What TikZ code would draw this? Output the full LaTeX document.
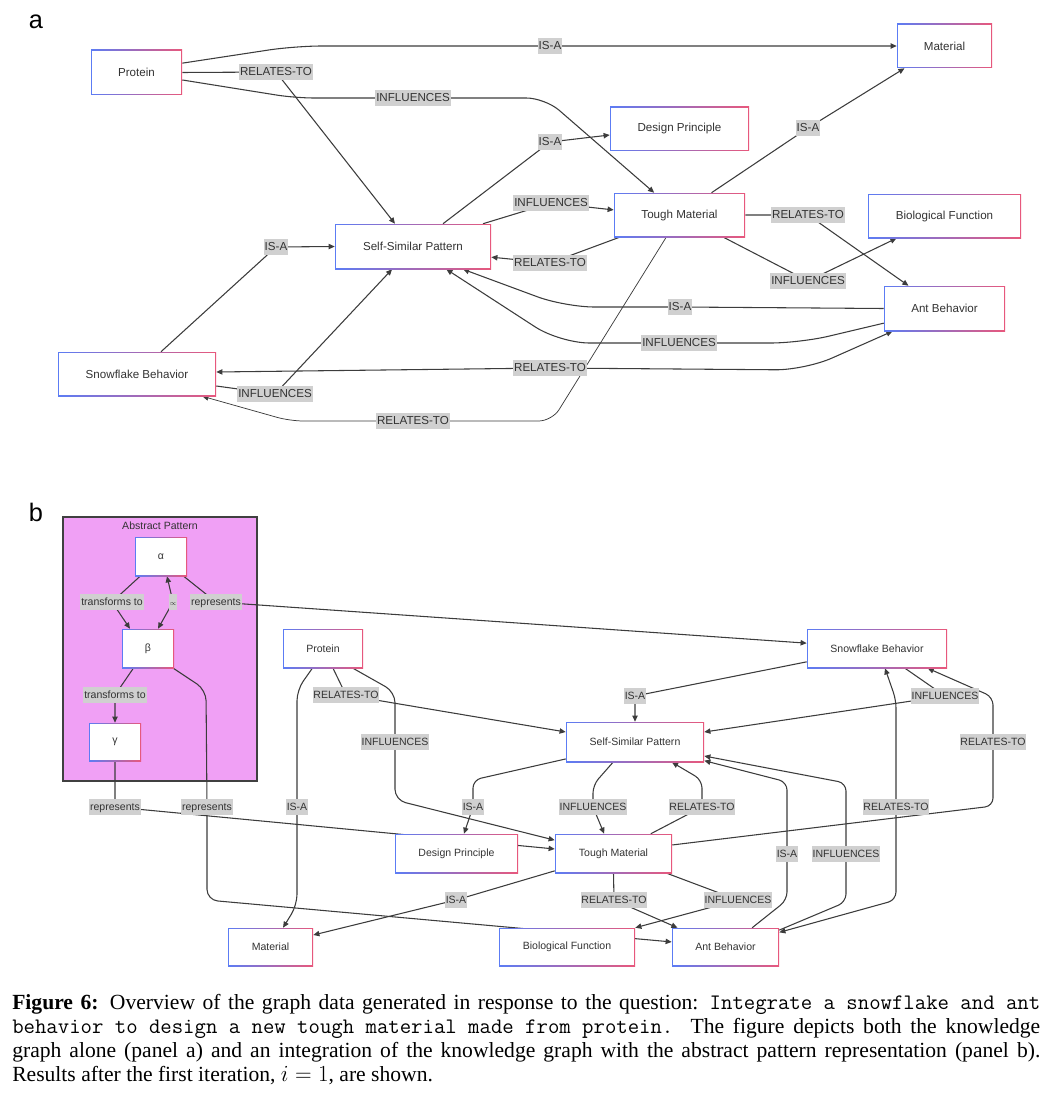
\documentclass[tikz,border=0pt]{standalone}
\usepackage{fontspec}
\setmainfont{Liberation Serif}
\setsansfont{Liberation Sans}
\usepackage{tikz}
\usetikzlibrary{arrows.meta}
\definecolor{kgblue}{HTML}{5C7CF4}
\definecolor{kgpink}{HTML}{E8587C}
\definecolor{kgtext}{HTML}{333333}
\definecolor{kgline}{HTML}{3C3C3C}
\definecolor{kglabel}{HTML}{D0D0D0}
\definecolor{absfill}{HTML}{F0A0F5}
\pgfdeclarelayer{bg}
\pgfdeclarelayer{lines}
\pgfsetlayers{bg,lines,main}
\newcommand{\fonta}{\sffamily\fontsize{8.7}{10}\selectfont}
\newcommand{\fontb}{\sffamily\fontsize{7.9}{9}\selectfont}
\newcommand{\captt}[1]{{\fontsize{16.6}{18}\selectfont\ttfamily #1}}

\begin{document}
\begin{tikzpicture}[x=0.75pt, y=-0.75pt,
	kg_node/.style 2 args={rectangle, inner sep=0pt, left color=kgblue, right color=kgpink, text=kgtext, minimum width=#1*0.75pt, minimum height=#2*0.75pt, path picture={\fill[white] ([xshift=1.1pt,yshift=-1.1pt]path picture bounding box.north west) rectangle ([xshift=-1.1pt,yshift=1.1pt]path picture bounding box.south east);}},
	kg_label/.style={fill=kglabel, text=kgtext, inner xsep=0.6pt, inner ysep=1.5pt, text height=0.72em, text depth=0.22em},
	kg_edge/.style={draw=kgline, line width=0.8pt, rounded corners=6pt},
	>={Triangle[length=4.6pt,width=4pt]}]
\useasboundingbox (0,0) rectangle (1054,1102);

% panel a
\node[font=\sffamily\fontsize{19}{19}\selectfont] (tag_a) at (36,22) {a};
\begin{scope}[font=\fonta]
	\node[kg_node={91}{45}](pa) at (136.5,72.5){Protein};
	\node[kg_node={95}{44}](ma) at (944.5,46){Material};
	\node[kg_node={139}{44}](da) at (679.5,129){Design Principle};
	\node[kg_node={131}{44}](ta) at (679.5,215){Tough Material};
	\node[kg_node={153}{44}](fa) at (944.5,216){Biological Function};
	\node[kg_node={121}{45}](aa) at (944.5,308.5){Ant Behavior};
	\node[kg_node={156}{45}](sa) at (413,246.5){Self-Similar Pattern};
	\node[kg_node={158}{44}](na) at (137,374){Snowflake Behavior};

	\node[kg_label](isa_1) at (550,46){IS-A};
	\node[kg_label](rel_1) at (276,72){RELATES-TO};
	\node[kg_label](inf_1) at (413,98){INFLUENCES};
	\node[kg_label](isa_2) at (550,142){IS-A};
	\node[kg_label](inf_2) at (551,203){INFLUENCES};
	\node[kg_label](rel_2) at (550,263){RELATES-TO};
	\node[kg_label](isa_3) at (808,128){IS-A};
	\node[kg_label](rel_3) at (808,215){RELATES-TO};
	\node[kg_label](inf_3) at (808,281){INFLUENCES};
	\node[kg_label](isa_4) at (680,307){IS-A};
	\node[kg_label](inf_4) at (679,343){INFLUENCES};
	\node[kg_label](rel_4) at (550,368){RELATES-TO};
	\node[kg_label](isa_5) at (276,247){IS-A};
	\node[kg_label](inf_5) at (275,394){INFLUENCES};
	\node[kg_label](rel_5) at (413,421){RELATES-TO};
\end{scope}

\begin{pgfonlayer}{lines}
	\draw[kg_edge,->,rounded corners=20pt] ([yshift=7pt]pa.east) -- (295,46) -- (isa_1.center) -- (ma.west);
	\draw[kg_edge,->] (pa.east) -- (rel_1.center) -- ([xshift=-13.5pt]sa.north);
	\draw[kg_edge,->,rounded corners=14pt] ([yshift=-5.6pt]pa.east) -- (295,98) -- (inf_1.center) -- (545,98) -- ([xshift=-19pt]ta.north);
	\draw[kg_edge,->] ([xshift=22.5pt]sa.north) -- (isa_2.center) -- ([yshift=-4.5pt]da.west);
	\draw[kg_edge,->] ([xshift=52.5pt]sa.north) -- (inf_2.center) -- ([yshift=3.8pt]ta.west);
	\draw[kg_edge,->] ([xshift=-45pt]ta.south) -- (rel_2.center) -- ([yshift=-8pt]sa.east);
	\draw[kg_edge,->] ([xshift=24pt]ta.north) -- (isa_3.center) -- ([xshift=-30pt]ma.south);
	\draw[kg_edge,->] (ta.east) -- (rel_3.center) -- ([xshift=-27pt]aa.north);
	\draw[kg_edge,->] ([xshift=33pt]ta.south) -- (inf_3.center) -- ([xshift=-36pt]fa.south);
	\draw[kg_edge,->,rounded corners=22pt] (aa.west) -- (isa_4.center) -- (565,307) -- ([xshift=37.5pt]sa.south);
	\draw[kg_edge,->,rounded corners=22pt] ([yshift=-11pt]aa.west) -- (800,343) -- (inf_4.center) -- (560,343) -- ([xshift=25pt]sa.south);
	\draw[kg_edge,<->,rounded corners=22pt] ([yshift=1.5pt]na.east) -- (rel_4.center) -- (805,370) -- ([xshift=-39pt]aa.south);
	\draw[kg_edge,->] ([xshift=18pt]na.north) -- (isa_5.center) -- (sa.west);
	\draw[kg_edge,->] ([yshift=-9pt]na.east) -- (inf_5.center) -- ([xshift=-15.7pt]sa.south);
	\draw[kg_edge,->,line width=0.55pt,rounded corners=10pt] ([xshift=-10pt]ta.south) -- (552,421) -- (rel_5.center) -- (290,421) -- ([xshift=49pt]na.south);
\end{pgfonlayer}

% panel b
\node[font=\sffamily\fontsize{19}{19}\selectfont] (tag_b) at (36,512) {b};
\begin{pgfonlayer}{bg}
	\node[draw=black!75, fill=absfill, line width=1.1pt, minimum width=194*0.75pt, minimum height=264*0.75pt] (abs) at (160,649) {};
\end{pgfonlayer}
\begin{scope}[font=\fontb]
	\node[text=kgtext](abs_title) at (160,526){Abstract Pattern};
	\node[kg_node={52}{39}](al) at (161,556.5){α};
	\node[kg_node={52}{39}](be) at (148,648.5){β};
	\node[kg_node={52}{38}](ga) at (115,742){γ};
	\node[kg_node={80}{39}](pb) at (323,648.5){Protein};
	\node[kg_node={140}{39}](nb) at (877,648.5){Snowflake Behavior};
	\node[kg_node={138}{40}](sb) at (635,742){Self-Similar Pattern};
	\node[kg_node={123}{39}](db) at (456.5,853.5){Design Principle};
	\node[kg_node={117}{39}](tb) at (613.5,853.5){Tough Material};
	\node[kg_node={85}{38}](mb) at (270.5,947){Material};
	\node[kg_node={136}{38}](fb) at (567,947){Biological Function};
	\node[kg_node={107}{38}](ab) at (725.5,947){Ant Behavior};

	\node[kg_label](tr_1) at (112,602){transforms to};
	\node[kg_label,font=\tiny](prop) at (173,602){$\propto$};
	\node[kg_label](rep_1) at (216,602){represents};
	\node[kg_label](tr_2) at (115,695){transforms to};
	\node[kg_label](rep_3) at (115,807){represents};
	\node[kg_label](rep_2) at (207,807){represents};
	\node[kg_label](isa_6) at (297,807){IS-A};
	\node[kg_label](rel_6) at (346,695){RELATES-TO};
	\node[kg_label](inf_6) at (395,742){INFLUENCES};
	\node[kg_label](isa_7) at (635,696){IS-A};
	\node[kg_label](inf_7) at (945,696){INFLUENCES};
	\node[kg_label](rel_7) at (993,742){RELATES-TO};
	\node[kg_label](rel_8) at (896,807){RELATES-TO};
	\node[kg_label](isa_8) at (473,807){IS-A};
	\node[kg_label](inf_8) at (593,807){INFLUENCES};
	\node[kg_label](rel_9) at (702,807){RELATES-TO};
	\node[kg_label](isa_9) at (787,854){IS-A};
	\node[kg_label](inf_9) at (846,854){INFLUENCES};
	\node[kg_label](isa_10) at (456,900){IS-A};
	\node[kg_label](rel_10) at (614,900){RELATES-TO};
	\node[kg_label](inf_10) at (738,900){INFLUENCES};
\end{scope}

\begin{pgfonlayer}{lines}
	\draw[kg_edge,->] ([xshift=-15.7pt]al.south) -- (tr_1.center) -- ([xshift=-13.5pt]be.north);
	\draw[kg_edge,<->] ([xshift=4.5pt]al.south) -- (prop.center) -- ([xshift=7.5pt]be.north);
	\draw[kg_edge,->] ([xshift=17pt]al.south) -- (rep_1.center) -- ([yshift=4pt]nb.west);
	\draw[kg_edge,->] ([xshift=-11pt]be.south) -- (tr_2.center) -- (ga.north);
	\draw[kg_edge,->,rounded corners=8pt] ([xshift=19pt]be.south) -- (206,690) -- (rep_2.center) -- (207,900) -- ([yshift=3.8pt]ab.west);
	\draw[kg_edge,->] (ga.south) -- (rep_3.center) -- ([yshift=3.4pt]tb.west);
	\draw[kg_edge,->] ([xshift=7.5pt]pb.south) -- (rel_6.center) -- ([yshift=7.5pt]sb.west);
	\draw[kg_edge,->,rounded corners=8pt] ([xshift=22.5pt]pb.south) -- (395,692) -- (inf_6.center) -- (395,800) -- ([yshift=10pt]tb.west);
	\draw[kg_edge,->,rounded corners=8pt] ([xshift=-8pt]pb.south) -- (297,690) -- (isa_6.center) -- (297,905) -- ([xshift=9.4pt]mb.north);
	\draw[kg_edge,->] ([yshift=-10pt]nb.west) -- (isa_7.center) -- (sb.north);
	\draw[kg_edge,->] ([xshift=21pt]nb.south) -- (inf_7.center) -- ([yshift=7.5pt]sb.east);
	\draw[kg_edge,->] ([yshift=6.4pt]tb.east) -- (993,806) -- (rel_7.center) -- (993,697) -- ([xshift=38pt]nb.south);
	\draw[kg_edge,<->] ([xshift=6pt]nb.south) -- (896,700) -- (rel_8.center) -- (896,900) -- ([yshift=11pt]ab.east);
	\draw[kg_edge,->] ([yshift=-12.7pt]sb.west) -- (473,780) -- (isa_8.center) -- ([xshift=5.6pt]db.north);
	\draw[kg_edge,->] ([xshift=-16.5pt]sb.south) -- (593,785) -- (inf_8.center) -- ([xshift=-7pt]tb.north);
	\draw[kg_edge,->] ([xshift=28pt]tb.north) -- (rel_9.center) -- (702,780) -- ([xshift=27.7pt]sb.south);
	\draw[kg_edge,->] ([xshift=20pt]ab.north) -- (787,900) -- (isa_9.center) -- (787,782) -- ([yshift=-14pt]sb.east);
	\draw[kg_edge,->] ([yshift=12.7pt]ab.east) -- (846,902) -- (inf_9.center) -- (846,783) -- ([yshift=-10.5pt]sb.east);
	\draw[kg_edge,->] ([yshift=-13pt]tb.west) -- (isa_10.center) -- ([yshift=9pt]mb.east);
	\draw[kg_edge,->] (tb.south) -- (rel_10.center) -- ([xshift=-36pt]ab.north);
	\draw[kg_edge,->] ([xshift=40pt]tb.south) -- (inf_10.center) -- (fb.north east);
\end{pgfonlayer}

% caption
\node[anchor=north west, inner sep=0pt, text width=771pt, align=justify, font=\rmfamily\fontsize{16.2}{18}\selectfont] (caption) at (12,994) {\textbf{Figure 6:} Overview of the graph data generated in response to the question: \captt{Integrate a snowflake and ant}\linebreak \captt{behavior to design a new tough material made from protein.} The figure depicts both the knowledge\linebreak graph alone (panel a) and an integration of the knowledge graph with the abstract pattern representation (panel b).\linebreak Results after the first iteration, $i=1$, are shown.};
\end{tikzpicture}
\end{document}
